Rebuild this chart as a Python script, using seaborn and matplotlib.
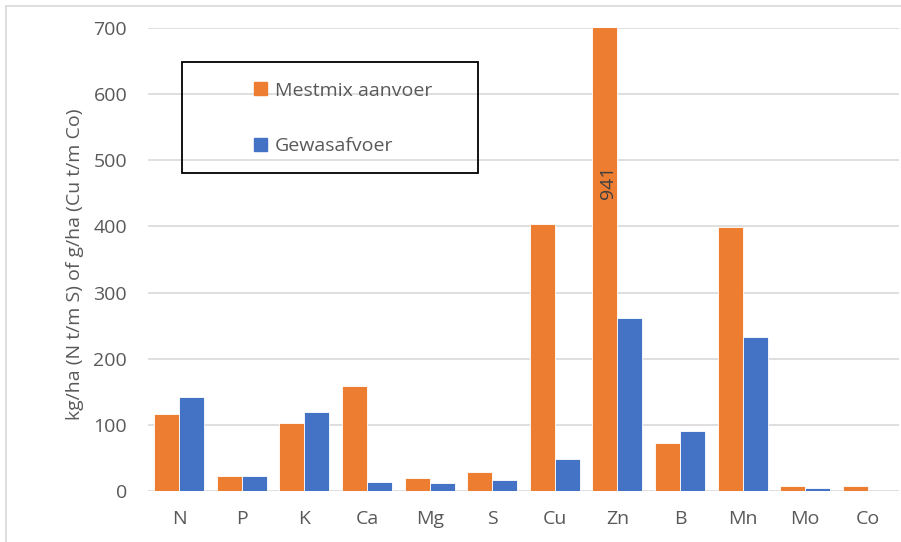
import matplotlib
matplotlib.use("Agg")
import matplotlib.pyplot as plt
from matplotlib.lines import Line2D
from matplotlib.patches import Rectangle
import seaborn as sns
import pandas as pd

# Nutrient balance per element
elements = ["N", "P", "K", "Ca", "Mg", "S", "Cu", "Zn", "B", "Mn", "Mo", "Co"]
mestmix_aanvoer = [117, 23, 103, 159, 19, 29, 404, 941, 72, 399, 8, 8]
gewasafvoer = [142, 23, 119, 14, 12, 16, 48, 261, 90, 233, 4.5, 0]
series_names = ["Mestmix aanvoer", "Gewasafvoer"]
y_ticks = [0, 100, 200, 300, 400, 500, 600, 700]
y_label = "kg/ha (N t/m S) of g/ha (Cu t/m Co)"

ORANGE = "#ED7D31"
BLUE = "#4472C4"
TEXT = "#595959"
GRID = "#D9D9D9"

df = pd.DataFrame({
    "element": elements * 2,
    "waarde": mestmix_aanvoer + gewasafvoer,
    "reeks": [series_names[0]] * len(elements) + [series_names[1]] * len(elements),
})

sns.set_theme(style="white")
plt.rcParams["font.family"] = ["Open Sans", "DejaVu Sans"]

W, H = 901, 542
fig = plt.figure(figsize=(W / 100, H / 100), dpi=100)
ax = fig.add_axes([148 / W, 1 - 491 / H, (899 - 148) / W, (491 - 28) / H])

sns.barplot(data=df, x="element", y="waarde", hue="reeks", order=elements,
            hue_order=series_names, palette=[ORANGE, BLUE], width=0.8,
            edgecolor="white", linewidth=0.6, ax=ax, legend=False,
            saturation=1, errorbar=None)

ax.set_ylim(0, 700)
ax.set_xlim(-0.5, len(elements) - 0.5)
ax.set_yticks(y_ticks)
ax.set_yticklabels([str(t) for t in y_ticks])
ax.yaxis.grid(True, color=GRID, linewidth=1.2)
ax.set_axisbelow(True)
for s in ax.spines.values():
    s.set_visible(False)
ax.tick_params(axis="both", length=0, labelsize=14, labelcolor=TEXT)
ax.tick_params(axis="y", pad=15)
ax.tick_params(axis="x", pad=14)
ax.set_xlabel("")
ax.set_ylabel(y_label, fontsize=14, color=TEXT)
ax.yaxis.set_label_coords(-(148 - 84) / (899 - 148), (491 - 264) / (491 - 28))

# Value label on the Zn bar that runs past the axis limit
zn = elements.index("Zn")
ax.text(zn - 0.15, 467, f"{mestmix_aanvoer[zn]:.0f}", rotation=90,
        ha="center", va="center", fontsize=14, color="#404040")

# Legend inside a black box
fig.patches.append(Rectangle((182 / W, 1 - 173 / H), (478 - 182) / W, (173 - 62) / H,
                             transform=fig.transFigure, fill=False,
                             edgecolor="black", linewidth=1.3, zorder=5))
handles = [Rectangle((0, 0), 1, 1, color=ORANGE), Rectangle((0, 0), 1, 1, color=BLUE)]
fig.legend(handles, series_names, loc="upper left",
           bbox_to_anchor=(237 / W, 1 - 64 / H), frameon=False,
           fontsize=14, labelcolor=TEXT, handlelength=0.65, handleheight=0.65,
           handletextpad=0.4, labelspacing=1.95)

# Chart area border (top and left edges)
fig.add_artist(Line2D([6 / W, 1], [1 - 6 / H, 1 - 6 / H], transform=fig.transFigure,
                      color=GRID, linewidth=1.2))
fig.add_artist(Line2D([6 / W, 6 / W], [0, 1 - 6 / H], transform=fig.transFigure,
                      color=GRID, linewidth=1.2))

fig.savefig("out.png", dpi=100, facecolor="white")
